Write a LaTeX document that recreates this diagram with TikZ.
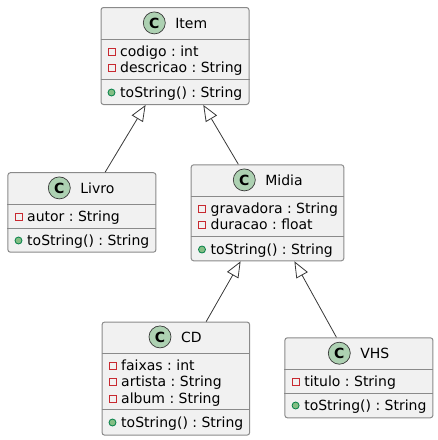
\documentclass[tikz,border=0pt]{standalone}
\usepackage{fontspec}
\setmainfont{DejaVu Sans}
\usetikzlibrary{arrows.meta,positioning}
\definecolor{boxfill}{HTML}{F1F1F1}
\definecolor{boxline}{HTML}{8A8A8A}
\definecolor{linedark}{HTML}{383838}
\definecolor{markgreen}{HTML}{ADD1B2}
\definecolor{privred}{HTML}{C82930}
\definecolor{publine}{HTML}{038048}
\definecolor{pubfill}{HTML}{84BE84}
\tikzset{
  classbox/.style={draw=boxline,fill=boxfill,line width=1pt,rounded corners=2.5pt,inner sep=0pt,anchor=north west},
  classmark/.style={circle,draw=linedark,fill=markgreen,line width=0.7pt,minimum size=22pt,inner sep=0pt,font=\fontsize{14}{16}\selectfont\bfseries},
  classtitle/.style={inner sep=0pt,font=\fontsize{14}{16}\selectfont},
  member/.style={inner sep=0pt,anchor=base west,font=\fontsize{14}{16}\selectfont},
  divider/.style={draw=boxline,line width=1pt},
  privmark/.style={draw=privred,fill=boxfill,line width=1pt,minimum size=7pt,inner sep=0pt},
  pubmark/.style={circle,draw=publine,fill=pubfill,line width=0.8pt,minimum size=7pt,inner sep=0pt},
  inherits/.style={draw=linedark,line width=0.8pt,-{Triangle[open,length=16pt,width=13pt]}}
}
\newcommand{\classhead}[4]{% name, x of circle, baseline, title
  \node[classmark,anchor=base] (#1mark) at (#2,#3) {C};
  \node[classtitle,base right=9.5pt of #1mark] (#1title) {#4};
}
\newcommand{\memb}[5]{% name, mark style, x of mark, baseline, text
  \node[#2] (#1mark) at (#3,#4-4.5) {};
  \node[member] (#1text) at (#3+8.5,#4) {\frenchspacing #5};
}
\begin{document}
\begin{tikzpicture}[x=1pt,y=-1pt]
  \useasboundingbox (0,0) rectangle (438,440);
  % boxes
  \node[classbox,minimum width=148pt,minimum height=97pt] (item) at (100.5,7) {};
  \node[classbox,minimum width=148pt,minimum height=79.5pt] (livro) at (7.4,172.2) {};
  \node[classbox,minimum width=152.6pt,minimum height=96pt] (midia) at (190.7,164.3) {};
  \node[classbox,minimum width=147.5pt,minimum height=113pt] (cd) at (101.6,321.6) {};
  \node[classbox,minimum width=148pt,minimum height=80pt] (vhs) at (284.4,337.3) {};
  % dividers
  \draw[divider] (item.west|-0,39.5) -- (item.east|-0,39.5);
  \draw[divider] (item.west|-0,79.5) -- (item.east|-0,79.5);
  \draw[divider] (livro.west|-0,204.5) -- (livro.east|-0,204.5);
  \draw[divider] (livro.west|-0,228.5) -- (livro.east|-0,228.5);
  \draw[divider] (midia.west|-0,196.4) -- (midia.east|-0,196.4);
  \draw[divider] (midia.west|-0,236.4) -- (midia.east|-0,236.4);
  \draw[divider] (cd.west|-0,353.5) -- (cd.east|-0,353.5);
  \draw[divider] (cd.west|-0,409.5) -- (cd.east|-0,409.5);
  \draw[divider] (vhs.west|-0,369.2) -- (vhs.east|-0,369.2);
  \draw[divider] (vhs.west|-0,393.4) -- (vhs.east|-0,393.4);
  % class heads
  \classhead{item}{154.3}{28}{Item}
  \classhead{livro}{59.3}{193}{Livro}
  \classhead{midia}{244.3}{185}{Midia}
  \classhead{cd}{160}{342}{CD}
  \classhead{vhs}{339.3}{358.3}{VHS}
  % members
  \memb{codigo}{privmark}{111.5}{56}{codigo : int}
  \memb{descricao}{privmark}{111.5}{72}{descricao : String}
  \memb{itemstr}{pubmark}{111.5}{97}{toString() : String}
  \memb{autor}{privmark}{18.5}{221}{autor : String}
  \memb{livrostr}{pubmark}{18.5}{245}{toString() : String}
  \memb{gravadora}{privmark}{202}{213}{gravadora : String}
  \memb{duracao}{privmark}{202}{229.5}{duracao : float}
  \memb{midiastr}{pubmark}{202}{254}{toString() : String}
  \memb{faixas}{privmark}{112.5}{370}{faixas : int}
  \memb{artista}{privmark}{112.5}{386}{artista : String}
  \memb{album}{privmark}{112.5}{403}{album : String}
  \memb{cdstr}{pubmark}{112.5}{427}{toString() : String}
  \memb{titulo}{privmark}{295.6}{386}{titulo : String}
  \memb{vhsstr}{pubmark}{295.6}{410}{toString() : String}
  % connectors
  \draw[inherits] (livro.60) -- (item.239);
  \draw[inherits] (midia.121) -- (item.300);
  \draw[inherits] (cd.62) -- (midia.241);
  \draw[inherits] (vhs.119) -- (midia.299);
\end{tikzpicture}
\end{document}
